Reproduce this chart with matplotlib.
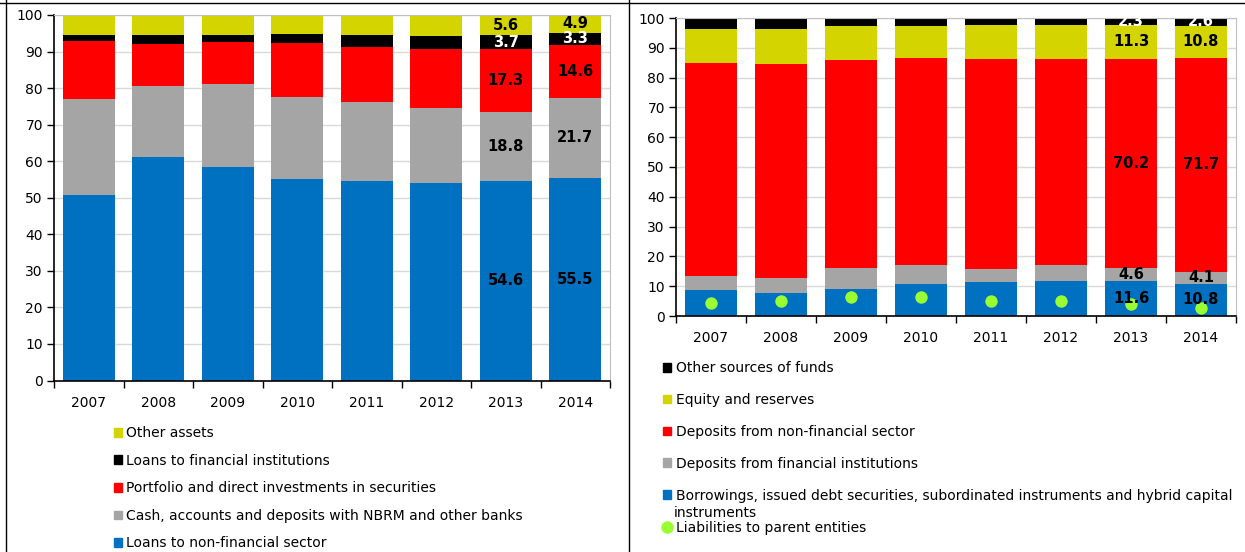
import matplotlib
matplotlib.use("Agg")
import matplotlib.pyplot as plt
from matplotlib.patches import Patch
from matplotlib.lines import Line2D
import numpy as np

plt.rcParams['font.family'] = ['DejaVu Sans']

years = ['2007', '2008', '2009', '2010', '2011', '2012', '2013', '2014']

# assets structure (%)
loans_nonfin = [50.7, 61.2, 58.4, 55.1, 54.6, 54.0, 54.6, 55.5]
cash_deposits = [26.2, 19.5, 22.6, 22.4, 21.6, 20.5, 18.8, 21.7]
securities = [15.9, 11.5, 11.5, 14.8, 15.0, 16.2, 17.3, 14.6]
loans_fin = [1.8, 2.2, 2.1, 2.4, 3.2, 3.6, 3.7, 3.3]
other_assets = [5.4, 5.6, 5.4, 5.3, 5.6, 5.7, 5.6, 4.9]

# liabilities structure (%)
borrowings = [8.7, 7.8, 9.2, 10.9, 11.4, 11.9, 11.6, 10.8]
dep_fin = [4.7, 4.9, 6.8, 6.1, 4.4, 5.1, 4.6, 4.1]
dep_nonfin = [71.6, 72.0, 69.8, 69.6, 70.4, 69.2, 70.2, 71.7]
equity = [11.4, 11.7, 11.6, 10.8, 11.4, 11.4, 11.3, 10.8]
other_sources = [3.6, 3.6, 2.6, 2.6, 2.4, 2.4, 2.3, 2.6]
parent_liab = [4.2, 5.0, 6.4, 6.4, 5.0, 5.0, 4.0, 2.8]

BLUE = '#0070C0'
GRAY = '#A5A5A5'
RED = '#FF0000'
BLACK = '#000000'
YELLOW = '#D4D400'
GREEN = '#99FF33'

W, H = 1245, 552
fig = plt.figure(figsize=(W / 100, H / 100), dpi=100)


def px_axes(x0, x1, ytop, ybot):
    return fig.add_axes([x0 / W, 1 - ybot / H, (x1 - x0) / W, (ybot - ytop) / H])


def stacked(ax, series, label_cols=(6, 7)):
    x = np.arange(len(years))
    bottom = np.zeros(len(years))
    for vals, c in series:
        vals = np.array(vals)
        ax.bar(x, vals, 0.75, bottom=bottom, color=c, zorder=2)
        for i in label_cols:
            tc = 'white' if c == BLACK else 'black'
            ax.text(x[i], bottom[i] + vals[i] / 2, f'{vals[i]:.1f}', ha='center', va='center',
                    fontsize=10.5, fontweight='bold', color=tc, zorder=5, clip_on=True)
        bottom += vals


def style(ax, xpad):
    ax.set_xlim(-0.5, 7.5)
    ax.set_ylim(0, 100)
    ax.set_yticks(range(0, 101, 10))
    ax.set_xticks(range(8))
    ax.set_xticklabels(years)
    ax.set_xticks(np.arange(-0.5, 8, 1), minor=True)
    ax.tick_params(axis='x', which='major', length=0, labelsize=10, pad=xpad)
    ax.tick_params(axis='x', which='minor', length=5, direction='out', width=1)
    ax.tick_params(axis='y', length=5, width=1, labelsize=10, pad=3)
    ax.grid(axis='y', color='#D9D9D9', lw=1, zorder=0)
    ax.set_axisbelow(True)
    for s in ['top', 'right']:
        ax.spines[s].set_color('#BFBFBF')
        ax.spines[s].set_linewidth(0.8)
    for s in ['left', 'bottom']:
        ax.spines[s].set_color('black')
        ax.spines[s].set_linewidth(1.2)


ax1 = px_axes(54, 610, 15, 380.5)
stacked(ax1, [(loans_nonfin, BLUE), (cash_deposits, GRAY), (securities, RED),
              (loans_fin, BLACK), (other_assets, YELLOW)])
style(ax1, 11)

ax2 = px_axes(676, 1236, 18, 316)
stacked(ax2, [(borrowings, BLUE), (dep_fin, GRAY), (dep_nonfin, RED),
              (equity, YELLOW), (other_sources, BLACK)])
ax2.scatter(np.arange(len(years)), parent_liab, s=80, color=GREEN, zorder=4, linewidths=0)
style(ax2, 11)

# legends
h1 = [Patch(color=YELLOW), Patch(color=BLACK), Patch(color=RED), Patch(color=GRAY), Patch(color=BLUE)]
l1 = ['Other assets', 'Loans to financial institutions', 'Portfolio and direct investments in securities',
      'Cash, accounts and deposits with NBRM and other banks', 'Loans to non-financial sector']
fig.legend(h1, l1, loc='upper left', bbox_to_anchor=(114 / W, 1 - 426 / H), frameon=False,
           fontsize=10, handlelength=0.6, handleheight=0.6, handletextpad=0.3,
           labelspacing=0.98, borderpad=0, borderaxespad=0)

h2 = [Patch(color=BLACK), Patch(color=YELLOW), Patch(color=RED), Patch(color=GRAY), Patch(color=BLUE),
      Line2D([], [], marker='o', ls='none', color=GREEN, markersize=9, markeredgewidth=0)]
l2 = ['Other sources of funds', 'Equity and reserves', 'Deposits from non-financial sector',
      'Deposits from financial institutions',
      'Borrowings, issued debt securities, subordinated instruments and hybrid capital',
      'Liabilities to parent entities']
fig.legend(h2, l2, loc='upper left', bbox_to_anchor=(663 / W, 1 - 361 / H), frameon=False,
           fontsize=10, handlelength=0.6, handleheight=0.6, handletextpad=0.3,
           labelspacing=1.29, borderpad=0, borderaxespad=0)
fig.text(674 / W, 1 - 513 / H, 'instruments', fontsize=10, va='center', ha='left')

# panel frame lines
fig.add_artist(Line2D([0, 1], [1 - 3 / H] * 2, color='black', lw=1))
fig.add_artist(Line2D([6 / W] * 2, [0, 1], color='black', lw=1))
fig.add_artist(Line2D([629 / W] * 2, [0, 1], color='black', lw=1))

fig.savefig('out.png', dpi=100)
